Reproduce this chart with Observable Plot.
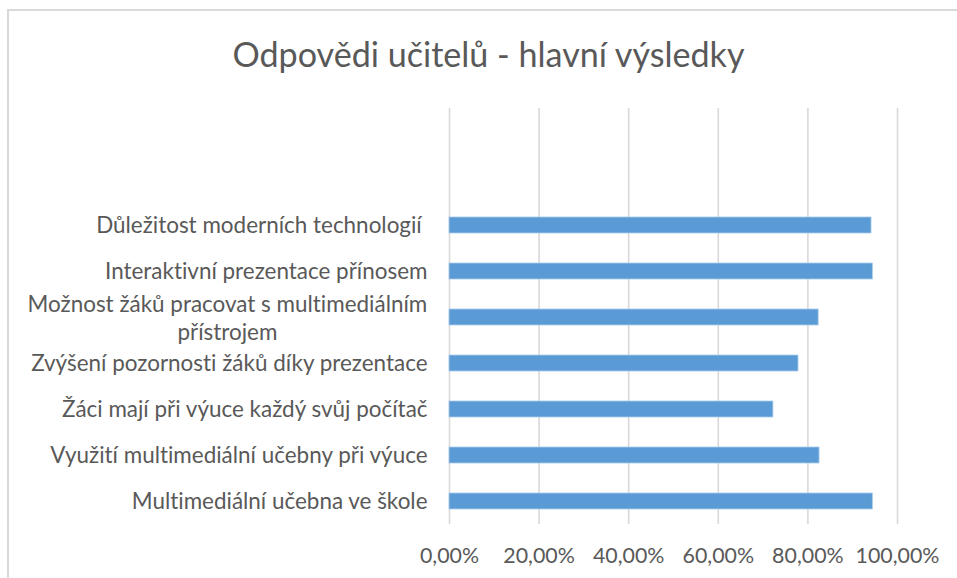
<!DOCTYPE html>
<html><head><meta charset="utf-8">
<script src="https://cdn.jsdelivr.net/npm/d3@7"></script>
<script src="https://cdn.jsdelivr.net/npm/@observablehq/plot@0.6"></script>
<style>
body{margin:0;background:#fff;overflow:hidden}
#wrap{position:relative;width:957px;height:578px;overflow:hidden;background:#fff}
#border{position:absolute;left:7px;top:9px;width:1000px;height:1000px;border:2px solid #d9d9d9;box-sizing:border-box}
#title{position:absolute;left:0;top:37px;width:977px;text-align:center;color:#595959;font-family:Lato;white-space:nowrap;line-height:1;font-variant-ligatures:none}
#chart{position:absolute;left:0;top:0}
svg text{font-variant-ligatures:none}
</style></head>
<body>
<div id="wrap"><div id="border"></div><div id="title"></div><div id="chart"></div></div>
<script>
const titleText = "Odpovědi učitelů - hlavní výsledky";
const categories = [
  "Důležitost moderních technologií\u00a0",
  "Interaktivní prezentace přínosem",
  "Možnost žáků pracovat s multimediálním přístrojem",
  "Zvýšení pozornosti žáků díky prezentace",
  "Žáci mají při výuce každý svůj počítač",
  "Využití multimediální učebny při výuce",
  "Multimediální učebna ve škole"
];
const values = [0.942, 0.945, 0.824, 0.779, 0.723, 0.826, 0.945];
const wrappedLabel = {"Možnost žáků pracovat s multimediálním přístrojem": ["Možnost žáků pracovat s multimediálním", "přístrojem"]};
const xTicks = [0, 0.2, 0.4, 0.6, 0.8, 1.0];

const data = categories.map((c, i) => ({label: c, value: values[i]}));
const FAMILY = "Lato";
const ctx = document.createElement("canvas").getContext("2d");
function measure(t, fs){ ctx.font = `${fs}px ${FAMILY}`; return ctx.measureText(t).width; }
function fit(t, target){ return 100 * target / measure(t, 100); }

const labelFs = fit("Interaktivní prezentace přínosem", 323);
const tickFs = fit("100,00%", 84);
const titleFs = fit(titleText, 513);

const title = document.getElementById("title");
title.textContent = titleText;
title.style.fontSize = titleFs + "px";

const czPct = d => (d * 100).toFixed(2).replace(".", ",") + "%";
const single = data.filter(d => !wrappedLabel[d.label]);
const multi = data.filter(d => wrappedLabel[d.label]);
const gap = 22;

const marks = [
  Plot.gridX(xTicks, {stroke: "#d9d9d9", strokeOpacity: 1, strokeWidth: 1.6}),
  Plot.barX(data, {x: "value", y: "label", fill: "#5b9bd5", stroke: "#a9cbeb", strokeWidth: 0.8}),
  Plot.axisX(xTicks, {tickSize: 0, tickPadding: 23, tickFormat: czPct, fontSize: tickFs, fill: "#595959", fontFamily: FAMILY, label: null}),
  Plot.text(single, {x: () => 0, y: "label", text: "label", textAnchor: "end", dx: -gap, fontSize: labelFs, fill: "#595959", fontFamily: FAMILY})
];
for (const d of multi) {
  const lines = wrappedLabel[d.label];
  const w = Math.max(...lines.map(l => measure(l, labelFs)));
  marks.push(Plot.text([d], {x: () => 0, y: "label", text: () => lines.join("\n"), textAnchor: "middle", lineAnchor: "middle", lineHeight: 28 / labelFs, dx: -gap - w / 2, fontSize: labelFs, fill: "#595959", fontFamily: FAMILY}));
}

const chart = Plot.plot({
  width: 957, height: 578,
  marginLeft: 449, marginRight: 60, marginTop: 108, marginBottom: 54,
  style: {background: "transparent", fontFamily: FAMILY},
  x: {domain: [0, 1], axis: null},
  y: {domain: categories, range: [201.5, 524], paddingInner: 0.645, paddingOuter: 0.3225, axis: null},
  marks
});
document.getElementById("chart").appendChild(chart);
</script>
</body></html>
